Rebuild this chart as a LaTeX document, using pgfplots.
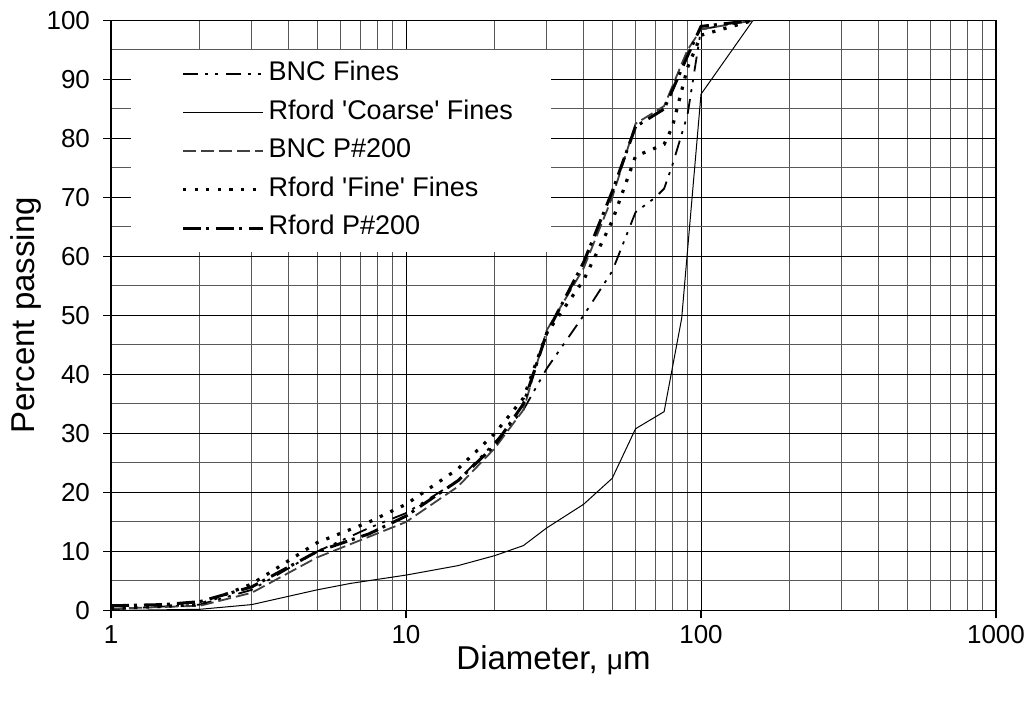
\documentclass[border=0pt]{standalone}
\usepackage{fontspec}
\setmainfont{Liberation Sans}
\usepackage{pgfplots}
\pgfplotsset{compat=1.18}

\begin{document}
\begin{tikzpicture}[x=1pt,y=1pt]
\useasboundingbox (-55.5,-46.75) rectangle (461,305.25);
\begin{axis}[
  at={(0,0)}, anchor=south west,
  scale only axis, width=442.5pt, height=295pt,
  xmode=log, xmin=1, xmax=1000, ymin=0, ymax=100,
  xtick={1,10,100,1000}, xticklabels={1,10,100,1000},
  ytick={0,10,...,100}, minor ytick={5,15,...,95},
  xtick pos=bottom, ytick pos=left,
  /pgf/number format/assume math mode=true,
  grid=both,
  major grid style={black, line width=0.5pt},
  minor grid style={black!65, line width=0.5pt},
  axis line style={black, line width=0.9pt},
  tick align=outside, major tick length=4pt, minor tick length=0pt,
  tick style={black, line width=0.6pt},
  ticklabel style={font=\fontsize{13}{13}\selectfont},
  yticklabel style={xshift=-3pt},
  xlabel={Diameter, {\fontsize{14}{14}\selectfont μ}m},
  ylabel={Percent passing},
  label style={font=\fontsize{16.5}{16.5}\selectfont},
  xlabel style={at={(axis description cs:0.5,-0.084)}, anchor=center},
  ylabel style={at={(axis description cs:-0.096,0.5)}, anchor=center},
  legend cell align=left,
  legend style={at={(axis description cs:0.0226,0.95)}, anchor=north west,
    draw=none, fill=white, inner xsep=17pt, inner ysep=4.5pt,
    font=\fontsize{13.5}{13.5}\selectfont, row sep=4.25pt,
    nodes={text height=8.6pt, text depth=2.4pt, inner ysep=2pt}},
  legend image code/.code={\path (0pt,0pt); \draw[#1] (8pt,0pt) -- (48pt,0pt);},
]
% BNC Fines
\addplot[black, line width=0.9pt,
  dash pattern=on 7.5pt off 3.5pt on 1.5pt off 3.5pt on 1.5pt off 4pt]
  coordinates {(1,0.2) (2,1) (3,3.5) (5,10) (7.5,14) (10,16.5) (15,22)
  (20,28.5) (25,34) (30,41) (40,50) (50,57.5) (60,67.5) (70,70) (75,71.5)
  (80,75.5) (90,84) (100,98.5) (150,100)};
\addlegendentry{BNC Fines}
% Rford 'Coarse' Fines
\addplot[black, line width=0.5pt]
  coordinates {(1,0) (2,0.2) (3,1) (5,3.5) (6.5,4.6) (10,6) (15,7.6)
  (20,9.3) (25,11) (30,14) (40,18) (50,22.4) (60,30.8) (75,33.7) (86,49.5)
  (100,87.5) (150,100)};
\addlegendentry{Rford \textquotesingle Coarse\textquotesingle{} Fines}
% BNC P#200
\addplot[black!75, line width=0.9pt, dash pattern=on 6.5pt off 2.5pt]
  coordinates {(1,0.3) (2,0.8) (3,3) (5,9) (7.5,12.5) (10,15) (15,21)
  (20,27.5) (25,34) (30,47.5) (40,58) (50,70) (60,82.5) (75,85.5) (90,95)
  (100,98.5) (150,100)};
\addlegendentry{BNC P\#200}
% Rford 'Fine' Fines
\addplot[black, line width=1.6pt, dash pattern=on 1.6pt off 4.2pt]
  coordinates {(1,0.3) (2,1) (3,4.5) (5,11.5) (7.5,15) (10,18) (15,24)
  (20,30) (25,36) (30,47) (40,56) (50,66) (60,77) (75,79) (80,82) (90,92)
  (100,97.5) (150,100)};
\addlegendentry{Rford \textquotesingle Fine\textquotesingle{} Fines}
% Rford P#200
\addplot[black, line width=1.5pt,
  dash pattern=on 9pt off 2.5pt on 1.5pt off 3.5pt]
  coordinates {(1,0.8) (1.5,1) (2,1.5) (3,4) (5,10) (7.5,13) (10,16)
  (15,22) (20,28) (25,35) (30,47) (40,59) (50,71) (60,82) (75,85) (90,94)
  (100,99) (150,100)};
\addlegendentry{Rford P\#200}
\end{axis}
\end{tikzpicture}
\end{document}
